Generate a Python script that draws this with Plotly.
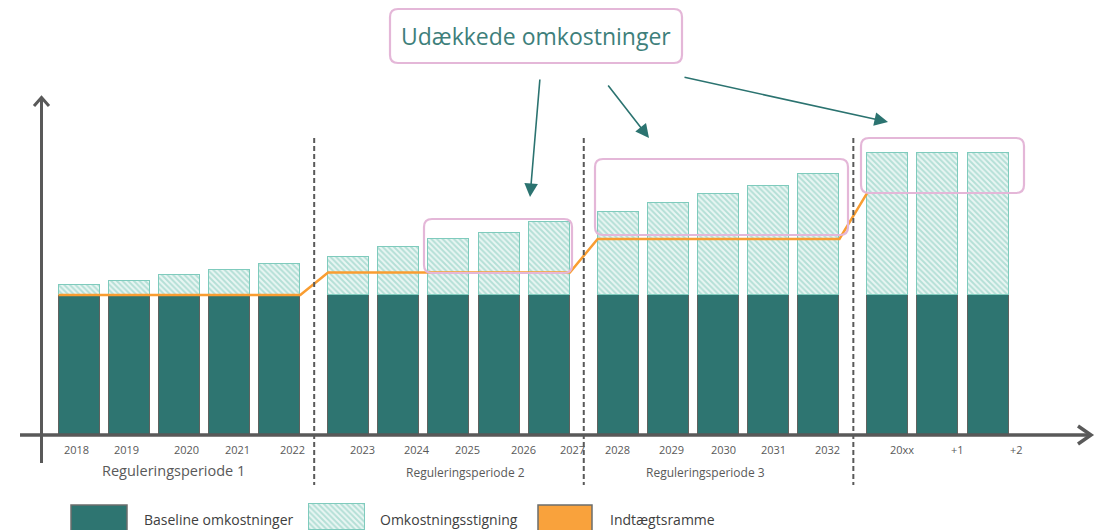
import plotly.graph_objects as go

# ---------------- data ----------------
categories = ["2018", "2019", "2020", "2021", "2022",
              "2023", "2024", "2025", "2026", "2027",
              "2028", "2029", "2030", "2031", "2032",
              "20xx", "+1", "+2"]
period_of = [0, 0, 0, 0, 0,
             1, 1, 1, 1, 1,
             2, 2, 2, 2, 2,
             3, 3, 3]
period_names = ["Reguleringsperiode 1", "Reguleringsperiode 2", "Reguleringsperiode 3"]
baseline = [100] * 18
increase = [7, 10, 14, 18, 22,
            27, 34.5, 40, 44.5, 52,
            59.5, 66, 72, 78, 86.5,
            101.5, 101.5, 101.5]
revenue_by_period = [100, 116, 140, 173]

# ---------------- geometry / styling ----------------
W, H = 1099, 530
Y0_PX = 435          # pixel row of the value 0
PX_PER_UNIT = 1.4    # vertical pixels per value unit
FIRST_CENTER = 79
STEP = 50.2
PERIOD_SHIFT = 0.37
BAR_W = 41

DARK = "#2e7571"
HATCH_FG = "#7ec8ba"
HATCH_BG = "#eaf6f3"
HATCH_EDGE = "#7fcbbd"
ORANGE = "#f99d31"
PINK = "#e4b7d8"
AXIS = "#595959"
ARROW = "#2b7370"
TXT = "#595959"


def vy(p):
    """pixel row -> y value"""
    return (Y0_PX - p) / PX_PER_UNIT


xs = [FIRST_CENTER + STEP * (i + PERIOD_SHIFT * p) for i, p in enumerate(period_of)]

hatch = dict(shape="\\", fgcolor=HATCH_FG, bgcolor=HATCH_BG, size=4, solidity=0.5)

fig = go.Figure()

fig.add_trace(go.Bar(
    x=xs, y=baseline, width=BAR_W,
    marker=dict(color=DARK, line=dict(color="#5f625f", width=1.5)),
    showlegend=False, hoverinfo="skip",
))
fig.add_trace(go.Bar(
    x=xs, y=increase, width=BAR_W,
    marker=dict(color="white", line=dict(color=HATCH_EDGE, width=1.5), pattern=hatch),
    showlegend=False, hoverinfo="skip",
))

# revenue frame: flat over each period, ramping into the next one
line_x, line_y = [], []
n_periods = len(revenue_by_period)
for p, r in enumerate(revenue_by_period):
    idx = [i for i, q in enumerate(period_of) if q == p]
    left = xs[idx[0]] - BAR_W / 2
    right = xs[idx[-1]] + BAR_W / 2
    line_x.append(left)
    line_y.append(r)
    if p < n_periods - 1:
        line_x.append(right)
        line_y.append(r)
fig.add_trace(go.Scatter(
    x=line_x, y=line_y, mode="lines",
    line=dict(color=ORANGE, width=2.5),
    showlegend=False, hoverinfo="skip",
))

# hatched legend swatch drawn as a real patterned bar on its own small axes
fig.add_trace(go.Bar(
    x=[0], y=[1], width=1, xaxis="x2", yaxis="y2",
    marker=dict(color="white", line=dict(color=HATCH_EDGE, width=1.5), pattern=hatch),
    showlegend=False, hoverinfo="skip",
))

shapes = []

# period separators
for p in range(n_periods - 1):
    last = max(i for i, q in enumerate(period_of) if q == p)
    first = min(i for i, q in enumerate(period_of) if q == p + 1)
    xm = ((xs[last] + BAR_W / 2) + (xs[first] - BAR_W / 2)) / 2
    shapes.append(dict(type="line", xref="x", yref="y", x0=xm, x1=xm,
                       y0=vy(138), y1=vy(485),
                       line=dict(color=AXIS, width=2, dash="5px,3px"), layer="above"))

# axes with chevron heads
shapes.append(dict(type="line", xref="x", yref="y", x0=20, x1=1090, y0=0, y1=0,
                   line=dict(color=AXIS, width=3.5), layer="above"))
shapes.append(dict(type="path", xref="x", yref="y",
                   path=f"M1078,{vy(426)} L1091,{vy(435)} L1078,{vy(444)}",
                   line=dict(color=AXIS, width=3.5), layer="above"))
shapes.append(dict(type="line", xref="x", yref="y", x0=41.5, x1=41.5, y0=vy(463), y1=vy(98),
                   line=dict(color=AXIS, width=3), layer="above"))
shapes.append(dict(type="path", xref="x", yref="y",
                   path=f"M34,{vy(106)} L41.5,{vy(97.5)} L49,{vy(106)}",
                   line=dict(color=AXIS, width=3), layer="above"))


def rrect(x0, y0, x1, y1, r):
    return (f"M{x0 + r},{vy(y0)} L{x1 - r},{vy(y0)} Q{x1},{vy(y0)} {x1},{vy(y0 + r)} "
            f"L{x1},{vy(y1 - r)} Q{x1},{vy(y1)} {x1 - r},{vy(y1)} "
            f"L{x0 + r},{vy(y1)} Q{x0},{vy(y1)} {x0},{vy(y1 - r)} "
            f"L{x0},{vy(y0 + r)} Q{x0},{vy(y0)} {x0 + r},{vy(y0)} Z")


# highlight boxes and title box
for (bx0, by0, bx1, by1) in [(424, 219, 572, 273), (595, 159, 848, 235), (861, 138, 1024, 193)]:
    shapes.append(dict(type="path", xref="x", yref="y", path=rrect(bx0, by0, bx1, by1, 8),
                       line=dict(color=PINK, width=2.2), layer="above"))
shapes.append(dict(type="path", xref="x", yref="y", path=rrect(390, 9, 682, 63, 8),
                   line=dict(color=PINK, width=2.2), fillcolor="white", layer="above"))

# legend swatches
shapes.append(dict(type="rect", xref="x", yref="y", x0=71, x1=127, y0=vy(505), y1=vy(540),
                   fillcolor=DARK, line=dict(color="#6b6e6c", width=1.5), layer="above"))
shapes.append(dict(type="rect", xref="x", yref="y", x0=538, x1=592, y0=vy(505), y1=vy(540),
                   fillcolor="#f9a23c", line=dict(color="#6b6e6c", width=1.5), layer="above"))

annotations = []

# year labels under the axis
label_nudge = [-3, -3, 7, 7.5, 13,
               14, 18, 19, 24, 23,
               -1, 3, 4.5, 5, 9,
               14, 20, 28]
for x, cat, dx in zip(xs, categories, label_nudge):
    annotations.append(dict(x=x + dx, y=vy(449), xref="x", yref="y", text=cat,
                            showarrow=False, font=dict(family="Open Sans", size=11, color=TXT)))

# period labels
for name, (px, py, fs) in zip(period_names, [(173.5, 470, 14.5), (465, 472, 12), (705, 472, 12)]):
    annotations.append(dict(x=px, y=vy(py), xref="x", yref="y", text=name, showarrow=False,
                            font=dict(family="Open Sans", size=fs, color=TXT)))

# title
annotations.append(dict(x=536, y=vy(36), xref="x", yref="y", text="Udækkede omkostninger",
                        showarrow=False, font=dict(family="Open Sans", size=23, color="#3e7f7b")))

# pointer arrows
for (tx, ty, hx, hy) in [(540, 78, 530, 197), (607, 84, 649, 138), (683, 77, 888, 122)]:
    annotations.append(dict(x=hx, y=vy(hy), ax=tx, ay=vy(ty), xref="x", yref="y",
                            axref="x", ayref="y", text="", showarrow=True,
                            arrowhead=2, arrowsize=1.7, arrowwidth=1.6, arrowcolor=ARROW))

# legend texts
for (lx, txt) in [(142, "Baseline omkostninger"), (378, "Omkostningsstigning"), (608, "Indtægtsramme")]:
    annotations.append(dict(x=lx, y=vy(519), xref="x", yref="y", text=txt, xanchor="left",
                            showarrow=False, font=dict(family="Open Sans", size=14, color="#404040")))

fig.update_layout(
    width=W, height=H,
    margin=dict(l=0, r=0, t=0, b=0),
    paper_bgcolor="white", plot_bgcolor="white",
    barmode="stack", bargap=0,
    xaxis=dict(range=[0, W], domain=[0, 1], visible=False, fixedrange=True),
    yaxis=dict(range=[vy(H), vy(0)], domain=[0, 1], visible=False, fixedrange=True),
    xaxis2=dict(domain=[306 / W, 368 / W], range=[-0.55, 0.55], anchor="y2",
                visible=False, fixedrange=True),
    yaxis2=dict(domain=[0, 27 / H], range=[0, 1.05], anchor="x2",
                visible=False, fixedrange=True),
    shapes=shapes,
    annotations=annotations,
    showlegend=False,
)

fig.write_html("out.html")
